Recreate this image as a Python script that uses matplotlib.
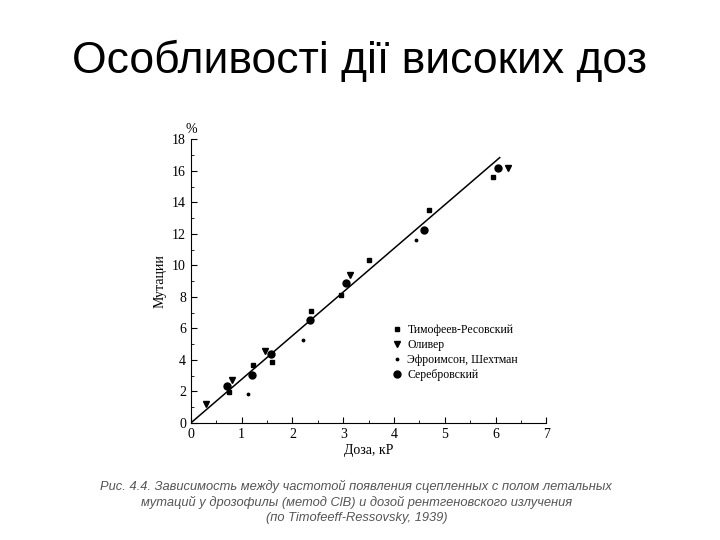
import matplotlib.pyplot as plt
from matplotlib.ticker import MultipleLocator

# Тимофеев-Ресовский (squares)
tim_x = [0.76, 1.23, 1.59, 2.36, 2.95, 3.50, 4.69, 5.94]
tim_y = [1.95, 3.70, 3.87, 7.08, 8.10, 10.36, 13.50, 15.60]
# Оливер (triangles)
oli_x = [0.30, 0.81, 1.46, 3.13, 6.24]
oli_y = [1.23, 2.75, 4.60, 9.40, 16.20]
# Эфроимсон, Шехтман (small dots)
efr_x = [1.12, 2.20, 4.43]
efr_y = [1.84, 5.24, 11.60]
# Серебровский (circles)
ser_x = [0.71, 1.21, 1.58, 2.34, 3.05, 4.58, 6.05]
ser_y = [2.33, 3.02, 4.38, 6.51, 8.90, 12.24, 16.20]
# fitted line
line_x = [0.0, 6.08]
line_y = [0.0, 16.85]

fig = plt.figure(figsize=(7.2, 5.4), dpi=100)
fig.text(0.5, 0.865, "Особливості дії високих доз", ha="center", fontsize=32,
         family="Liberation Sans")

ax = fig.add_axes([0.265, 0.2167, 0.494, 0.525])
serif = "Liberation Serif"
ax.plot(line_x, line_y, color="black", lw=1.1)
ax.plot(tim_x, tim_y, "s", color="black", ms=3.5, label="Тимофеев-Ресовский")
ax.plot(oli_x, oli_y, "v", color="black", ms=4.5, label="Оливер")
ax.plot(efr_x, efr_y, ".", color="black", ms=3.5, label="Эфроимсон, Шехтман")
ax.plot(ser_x, ser_y, "o", color="black", ms=5, label="Серебровский")

ax.set_xlim(0, 7)
ax.set_ylim(0, 18)
ax.xaxis.set_major_locator(MultipleLocator(1))
ax.xaxis.set_minor_locator(MultipleLocator(0.5))
ax.yaxis.set_major_locator(MultipleLocator(2))
ax.yaxis.set_minor_locator(MultipleLocator(1))
ax.tick_params(direction="in", which="both", labelsize=10, length=4)
ax.tick_params(which="minor", length=2.5)
for lab in ax.get_xticklabels() + ax.get_yticklabels():
    lab.set_family(serif)
for s in ["top", "right"]:
    ax.spines[s].set_visible(False)
ax.set_xlabel("Доза, кР", family=serif, fontsize=10, labelpad=2)
ax.set_ylabel("Мутации", family=serif, fontsize=10, labelpad=4)
ax.text(-0.1, 18.4, "%", family=serif, fontsize=10)

leg = ax.legend(loc="lower right", bbox_to_anchor=(0.95, 0.11), frameon=False,
                prop={"family": serif, "size": 8.5}, handlelength=0.8,
                handletextpad=0.5, labelspacing=0.25)

caption = ("Рис. 4.4. Зависимость между частотой появления сцепленных с полом летальных\n"
           "мутаций у дрозофилы (метод ClB) и дозой рентгеновского излучения\n"
           "(по Timofeeff-Ressovsky, 1939)")
fig.text(0.495, 0.03, caption, ha="center", va="bottom", fontsize=9.3,
         color="#555555", style="italic", family="Liberation Sans", linespacing=1.3)

fig.savefig("out.png", dpi=100)
